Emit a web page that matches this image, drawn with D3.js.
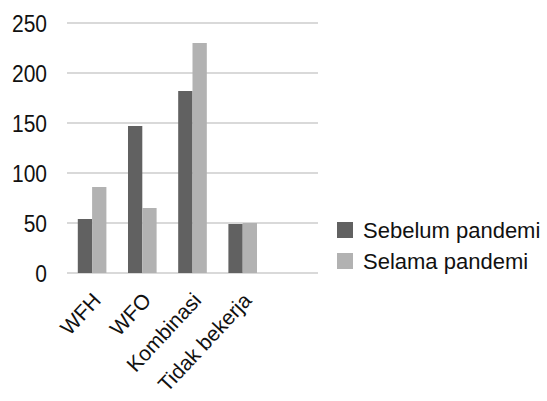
<!DOCTYPE html>
<html><head><meta charset="utf-8">
<script src="https://cdn.jsdelivr.net/npm/d3@7"></script>
<style>body{margin:0;background:#fff}svg{display:block}text{font-family:"Liberation Sans",Arial,sans-serif;fill:#111}</style>
</head><body>
<svg id="c" width="547" height="401"></svg>
<script>
const categories = ["WFH", "WFO", "Kombinasi", "Tidak bekerja"];
const seriesNames = ["Sebelum pandemi", "Selama pandemi"];
const sebelum = [54, 147, 182, 49];
const selama = [86, 65, 230, 50];
const yTicks = [0, 50, 100, 150, 200, 250];
const colors = ["#616161", "#b2b2b2"];

const svg = d3.select("#c");
const x0 = 67, x1 = 318, yTop = 23, yBot = 273;
const y = d3.scaleLinear().domain([0, 250]).range([yBot, yTop]);
const step = (x1 - x0) / 5;
const x = d3.scaleBand().domain(categories).range([x0, x0 + step * 4]).paddingInner(0.43).paddingOuter(0.215);
const xs = d3.scaleBand().domain(seriesNames).range([0, x.bandwidth()]);

// gridlines
svg.append("g").selectAll("line").data(yTicks).join("line")
  .attr("x1", x0).attr("x2", x1).attr("y1", d => y(d)).attr("y2", d => y(d))
  .attr("stroke", "#d9d9d9").attr("stroke-width", 2);

// y axis labels
const yAxis = d3.axisLeft(y).tickValues(yTicks).tickSize(0).tickPadding(0);
const ya = svg.append("g").attr("transform", "translate(47,0)").call(yAxis);
ya.select(".domain").remove();
ya.selectAll("text").attr("font-size", 21).attr("fill", "#111").attr("font-family", "Liberation Sans, Arial, sans-serif")
  .attr("dy", "0.36em").attr("transform", "scale(1,1.1)");

// bars
const data = categories.map((c, i) => ({c, vals: [sebelum[i], selama[i]]}));
const g = svg.append("g").selectAll("g").data(data).join("g")
  .attr("transform", d => `translate(${x(d.c)},0)`);
g.selectAll("rect").data(d => d.vals.map((v, j) => ({v, s: seriesNames[j], j}))).join("rect")
  .attr("x", d => xs(d.s)).attr("width", xs.bandwidth())
  .attr("y", d => y(d.v)).attr("height", d => yBot - y(d.v))
  .attr("fill", d => colors[d.j]);

// x labels
const xAxis = d3.axisBottom(x).tickSize(0).tickPadding(0);
const xa = svg.append("g").attr("transform", `translate(-5,${yBot + 23})`).call(xAxis);
xa.select(".domain").remove();
xa.selectAll("text").attr("font-size", 21).attr("fill", "#111").attr("font-family", "Liberation Sans, Arial, sans-serif")
  .attr("text-anchor", "end").attr("dy", "0.7em").attr("dx", "0.3em")
  .attr("transform", "rotate(-47)");

// legend
const lg = svg.append("g").selectAll("g").data(seriesNames).join("g")
  .attr("transform", (d, i) => `translate(337,${222 + i * 31})`);
lg.append("rect").attr("width", 16).attr("height", 16).attr("fill", (d, i) => colors[i]);
lg.append("text").attr("x", 26).attr("y", 8).attr("dy", "0.36em").attr("font-size", 22).text(d => d);
</script>
</body></html>
